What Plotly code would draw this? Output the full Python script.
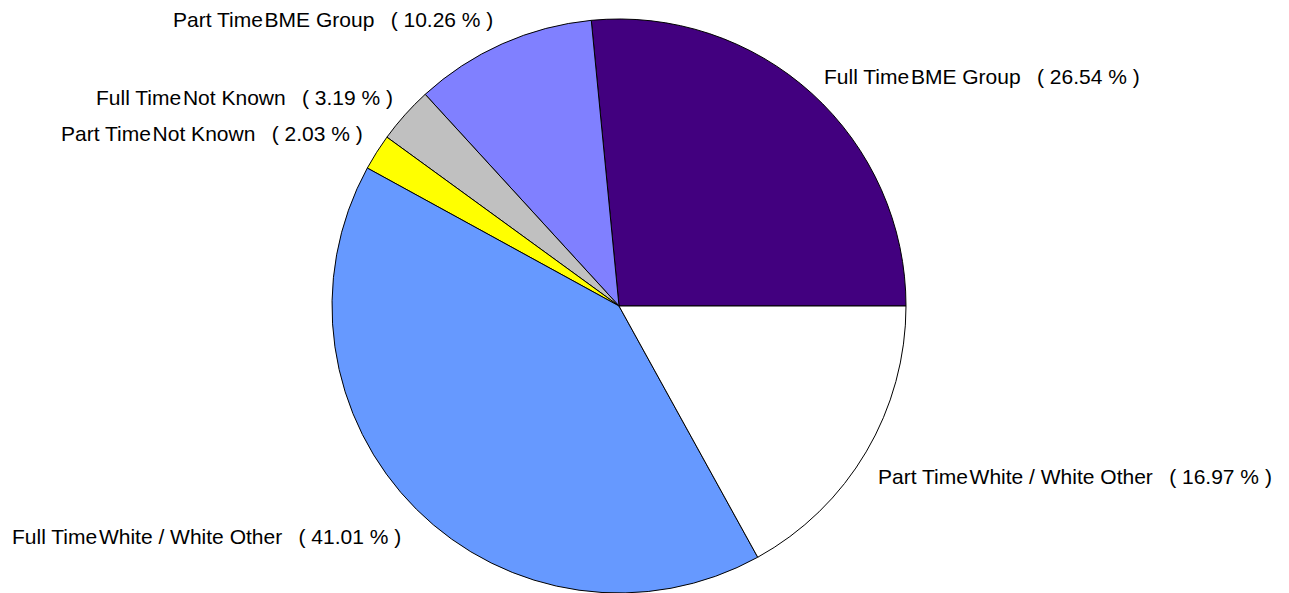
import plotly.graph_objects as go

employment = ["Full Time", "Part Time", "Full Time", "Part Time", "Full Time", "Part Time"]
ethnicity = ["BME Group", "BME Group", "Not Known", "Not Known",
             "White / White Other", "White / White Other"]
percent = [26.54, 10.26, 3.19, 2.03, 41.01, 16.97]
colors = ["#42007F", "#8080FF", "#C0C0C0", "#FFFF00", "#6699FF", "#FFFFFF"]

# page offset from default HTML body margin
OFF = 8
W, H = 1289 - OFF, 593 - OFF
# label anchor points on the page (pixels: left x, centre y)
label_pos = [(822, 76), (171, 19), (94, 97), (59, 133), (10, 536), (876, 476)]

NB = "\u00a0"
HAIR = "\u200a"
EN = "\u2002"
labels = [f"{e}{HAIR}{t}{NB}{EN}({NB}{p:.2f}{NB}%{NB})"
          for e, t, p in zip(employment, ethnicity, percent)]

total = sum(percent)
# first slice spans from its start edge to 3 o'clock, remaining slices counter-clockwise
rotation = 90 - 360 * percent[0] / total

fig = go.Figure(go.Pie(
    labels=[f"{e} {t}" for e, t in zip(employment, ethnicity)],
    values=percent,
    sort=False,
    direction="counterclockwise",
    rotation=rotation,
    textinfo="none",
    hoverinfo="label+percent",
    marker=dict(colors=colors, line=dict(color="#000000", width=1)),
    domain=dict(x=[0, 2 * (619 - OFF) / W], y=[0, 574 / H]),
    showlegend=False,
))

for txt, (px, py) in zip(labels, label_pos):
    fig.add_annotation(
        x=(px - OFF) / W, y=1 - (py - OFF) / H, xref="paper", yref="paper",
        xanchor="left", yanchor="middle", text=txt, showarrow=False,
        font=dict(family="Arial, Liberation Sans, sans-serif", size=21, color="#000000"),
    )

fig.update_layout(
    width=W, height=H,
    margin=dict(l=0, r=0, t=0, b=0),
    paper_bgcolor="#FFFFFF", plot_bgcolor="#FFFFFF",
)

fig.write_html("out.html")
